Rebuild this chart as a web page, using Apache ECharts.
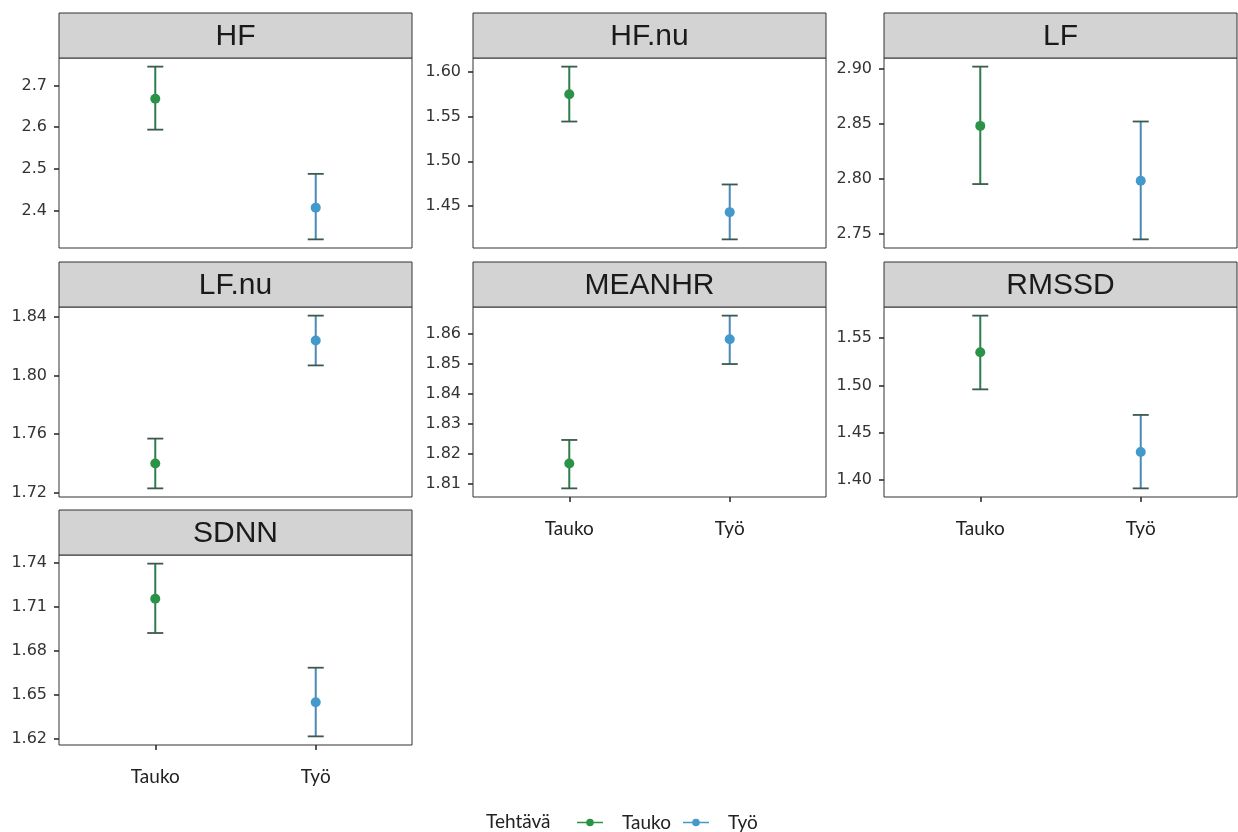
<!DOCTYPE html>
<html>
<head>
<meta charset="utf-8">
<script src="https://cdn.jsdelivr.net/npm/echarts@6/dist/echarts.min.js"></script>
<style>
    html, body { margin: 0; padding: 0; background: #fff; }
    #chart { width: 1238px; height: 832px; }
</style>
</head>
<body>
<div id="chart"></div>
<script>
    // facets and groups
    const facets = ['HF', 'HF.nu', 'LF', 'LF.nu', 'MEANHR', 'RMSSD', 'SDNN'];
    const groups = ['Tauko', 'Työ'];

    // mean and error bar limits, one value per facet
    const meanTauko = [2.668, 1.575, 2.848, 1.740, 1.8167, 1.535, 1.7156];
    const lowTauko  = [2.594, 1.5445, 2.795, 1.723, 1.8084, 1.4958, 1.6922];
    const highTauko = [2.745, 1.606, 2.902, 1.757, 1.8246, 1.5736, 1.7396];

    const meanTyo = [2.407, 1.443, 2.798, 1.824, 1.8583, 1.4297, 1.6449];
    const lowTyo  = [2.331, 1.4125, 2.7446, 1.807, 1.8500, 1.3913, 1.6216];
    const highTyo = [2.488, 1.474, 2.852, 1.841, 1.8662, 1.4688, 1.6685];

    // y tick labels per facet
    const yTickLabels = [
        ['2.4', '2.5', '2.6', '2.7'],
        ['1.45', '1.50', '1.55', '1.60'],
        ['2.75', '2.80', '2.85', '2.90'],
        ['1.72', '1.76', '1.80', '1.84'],
        ['1.81', '1.82', '1.83', '1.84', '1.85', '1.86'],
        ['1.40', '1.45', '1.50', '1.55'],
        ['1.62', '1.65', '1.68', '1.71', '1.74']
    ];

    const colors = { Tauko: '#2b9348', 'Työ': '#4499cc' };
    const barColors = { Tauko: '#2e7d4e', 'Työ': '#4a88b8' };

    // panel layout (px)
    const colLeft = [59, 473, 884];
    const panelW = 353;
    const rowTop = [58, 307, 555];
    const panelH = 190;
    const stripH = 45;
    const bottomPanels = [4, 5, 6];

    let myChart = echarts.init(document.getElementById('chart'));

    let grids = [], xAxes = [], yAxes = [], series = [], graphics = [];

    facets.forEach(function (name, i) {
        let col = i % 3, row = Math.floor(i / 3);
        let left = colLeft[col], top = rowTop[row];

        grids.push({
            left: left, top: top, width: panelW, height: panelH,
            show: true, borderColor: '#333', borderWidth: 1, backgroundColor: '#fff'
        });

        // strip
        graphics.push({
            type: 'rect',
            shape: { x: left, y: top - stripH, width: panelW, height: stripH },
            style: { fill: '#d3d3d3', stroke: '#333', lineWidth: 1 },
            z: 10
        });
        graphics.push({
            type: 'text',
            x: left + panelW / 2, y: top - stripH / 2 + 1,
            style: {
                text: name, textAlign: 'center', textVerticalAlign: 'middle',
                font: '30px "Liberation Sans", Arial, sans-serif', fill: '#1a1a1a'
            },
            z: 11
        });

        let showX = bottomPanels.indexOf(i) >= 0;
        xAxes.push({
            gridIndex: i, type: 'value', min: 0.4, max: 2.6,
            axisLine: { show: false },
            splitLine: { show: false },
            axisTick: {
                show: showX, customValues: [1, 2], length: 5,
                lineStyle: { color: '#222', width: 1.5 }
            },
            axisLabel: {
                show: showX, customValues: [1, 2], margin: 22,
                formatter: function (v) { return groups[Math.round(v) - 1]; },
                fontFamily: 'Lato', fontSize: 19, color: '#222'
            }
        });

        let allVals = [lowTauko[i], highTauko[i], lowTyo[i], highTyo[i], meanTauko[i], meanTyo[i]];
        let lo = Math.min.apply(null, allVals), hi = Math.max.apply(null, allVals);
        let pad = (hi - lo) * 0.05;
        let ticks = yTickLabels[i].map(parseFloat);

        yAxes.push({
            gridIndex: i, type: 'value', min: lo - pad, max: hi + pad,
            axisLine: { show: false },
            splitLine: { show: false },
            axisTick: {
                show: true, customValues: ticks, length: 5,
                lineStyle: { color: '#222', width: 1.5 }
            },
            axisLabel: {
                customValues: ticks, margin: 12,
                formatter: function (v) {
                    let k = ticks.findIndex(function (t) { return Math.abs(t - v) < 1e-9; });
                    return k >= 0 ? yTickLabels[i][k] : '';
                },
                fontFamily: '"DejaVu Sans", sans-serif', fontSize: 16, color: '#333'
            }
        });

        groups.forEach(function (g, gi) {
            let mean = gi === 0 ? meanTauko[i] : meanTyo[i];
            let low = gi === 0 ? lowTauko[i] : lowTyo[i];
            let high = gi === 0 ? highTauko[i] : highTyo[i];
            let x = gi + 1;
            series.push({
                name: g,
                type: 'custom',
                xAxisIndex: i, yAxisIndex: i,
                itemStyle: { color: colors[g] },
                encode: { x: 0, y: [1, 2] },
                data: [[x, low, high]],
                renderItem: function (params, api) {
                    let xv = api.value(0);
                    let p1 = api.coord([xv, api.value(1)]);
                    let p2 = api.coord([xv, api.value(2)]);
                    let hw = 8;
                    let st = { stroke: barColors[g], lineWidth: 2 };
                    let cap = { stroke: '#3b5a4f', lineWidth: 1.8 };
                    return {
                        type: 'group',
                        children: [
                            { type: 'line', shape: { x1: p1[0], y1: p1[1], x2: p2[0], y2: p2[1] }, style: st },
                            { type: 'line', shape: { x1: p1[0] - hw, y1: p1[1], x2: p1[0] + hw, y2: p1[1] }, style: cap },
                            { type: 'line', shape: { x1: p2[0] - hw, y1: p2[1], x2: p2[0] + hw, y2: p2[1] }, style: cap }
                        ]
                    };
                }
            });
            series.push({
                name: g,
                type: 'scatter',
                xAxisIndex: i, yAxisIndex: i,
                symbolSize: 10,
                itemStyle: { color: colors[g], opacity: 1 },
                data: [[x, mean]],
                z: 5
            });
        });
    });

    // legend title
    graphics.push({
        type: 'text',
        x: 486, y: 822,
        style: {
            text: 'Tehtävä', textVerticalAlign: 'middle',
            font: '19px Lato', fill: '#222'
        }
    });

    let option = {
        animation: false,
        backgroundColor: '#fff',
        grid: grids,
        xAxis: xAxes,
        yAxis: yAxes,
        legend: {
            show: true,
            left: 572,
            top: 808,
            itemWidth: 26,
            itemHeight: 10,
            itemGap: 12,
            textStyle: { fontFamily: 'Lato', fontSize: 19, color: '#222', padding: [0, 0, 0, 14] },
            data: groups.map(function (g) {
                return {
                    name: g,
                    icon: 'path://M0,4.3h24v1.4h-24z M12,1.5a3.5,3.5 0 1,1 0,7a3.5,3.5 0 1,1 0,-7z',
                    itemStyle: { color: colors[g] }
                };
            })
        },
        graphic: graphics,
        series: series
    };

    myChart.setOption(option);
    window.addEventListener('resize', myChart.resize);
</script>
</body>
</html>
